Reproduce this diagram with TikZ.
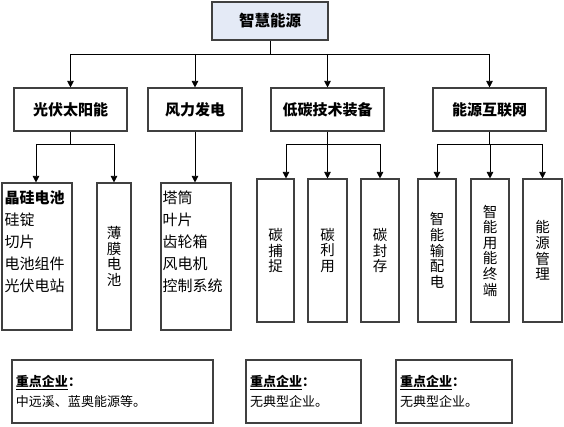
\documentclass[tikz,border=0pt]{standalone}
\usepackage{fontspec}
\setmainfont{Noto Sans CJK SC}
\usetikzlibrary{arrows.meta,calc}
\definecolor{topblue}{RGB}{228,234,246}
\definecolor{boxline}{RGB}{64,64,64}

\begin{document}
\begin{tikzpicture}[x=1pt,y=-1pt,
  box/.style={draw=boxline,line width=1.1pt,inner sep=0pt},
  arr/.style={-{Triangle[width=6.5pt,length=6.5pt]},line width=0.8pt},
  lnk/.style={line width=0.8pt},
  head/.style={box,font=\fontsize{15}{18}\selectfont\bfseries,minimum width=113,minimum height=43},
  vtxt/.style={box,font=\fontsize{14.5}{15.6}\selectfont,align=center},
  ltxt/.style={font=\fontsize{15}{22}\selectfont,align=left,anchor=north west,inner sep=0pt},
  firm/.style={box,font=\fontsize{13}{20}\selectfont,align=left,inner xsep=4pt,minimum height=63}]
\useasboundingbox (0,0) rectangle (564,427);

% top
\node[box,fill=topblue,minimum width=116,minimum height=38,font=\fontsize{15.5}{18}\selectfont\bfseries] (root) at (270,21) {智慧能源};

% second level
\node[head] (pv) at (70.5,109.5) {光伏太阳能};
\node[head,minimum width=94] (wind) at (195,109.5) {风力发电};
\node[head] (lowc) at (327.5,109.5) {低碳技术装备};
\node[head] (grid) at (489.5,109.5) {能源互联网};

\coordinate (bus) at (0,54);
\draw[lnk] (root.south) -- (root.south |- bus);
\draw[lnk] (pv.north |- bus) -- (grid.north |- bus);
\foreach \n in {pv,wind,lowc,grid}{\draw[arr] (\n.north |- bus) -- (\n.north);}

% third level
\node[box,minimum width=70,minimum height=147] (si) at (37,256.5) {};
\node[vtxt,minimum width=34,minimum height=147] (film) at (114,256.5) {薄\\膜\\电\\池};
\node[box,minimum width=70,minimum height=147] (parts) at (196,256.5) {};
\node[ltxt] (sitxt) at ([xshift=3pt,yshift=-8.5pt]si.north west) {\textbf{晶硅电池}\\硅锭\\切片\\电池组件\\光伏电站};
\node[ltxt] (partstxt) at ([xshift=2pt,yshift=-8.5pt]parts.north west) {塔筒\\叶片\\齿轮箱\\风电机\\控制系统};

\node[vtxt,minimum width=37,minimum height=143] (cap) at (275.5,250.5) {碳\\捕\\捉};
\node[vtxt,minimum width=39,minimum height=143] (use) at (327.5,250.5) {碳\\利\\用};
\node[vtxt,minimum width=38,minimum height=143] (store) at (380,250.5) {碳\\封\\存};
\node[vtxt,minimum width=38,minimum height=143] (dist) at (437,250.5) {智\\能\\输\\配\\电};
\node[vtxt,minimum width=38,minimum height=143] (term) at (490,250.5) {智\\能\\用\\能\\终\\端};
\node[vtxt,minimum width=39,minimum height=143] (mgmt) at (542.5,250.5) {能\\源\\管\\理};

\coordinate (fork) at (0,144);
\coordinate (capin) at ([xshift=10.5pt]cap.north);
\draw[lnk] (pv.south) -- (pv.south |- fork);
\draw[lnk] ([xshift=-1pt]si.north |- fork) -- (film.north |- fork);
\draw[arr] ([xshift=-1pt]si.north |- fork) -- ([xshift=-1pt]si.north);
\draw[arr] (film.north |- fork) -- (film.north);
\draw[arr] (wind.south) -- (wind.south |- parts.north);
\draw[lnk] (lowc.south) -- (lowc.south |- fork);
\draw[lnk] (capin |- fork) -- (store.north |- fork);
\foreach \n in {capin,use.north,store.north}{\draw[arr] (\n |- fork) -- (\n);}
\draw[lnk] (grid.south) -- (grid.south |- fork);
\draw[lnk] (dist.north |- fork) -- (mgmt.north |- fork);
\foreach \n in {dist,term,mgmt}{\draw[arr] (\n.north |- fork) -- (\n.north);}

% key firms
\node[firm,text width=193pt] (firm1) at (112.5,391.5) {\textbf{\underline{重点企业}：}\\中远溪、蓝奥能源等。};
\node[firm,text width=107pt] (firm2) at (303.5,391.5) {\textbf{\underline{重点企业}：}\\无典型企业。};
\node[firm,text width=108pt] (firm3) at (454,391.5) {\textbf{\underline{重点企业}：}\\无典型企业。};
\end{tikzpicture}
\end{document}
